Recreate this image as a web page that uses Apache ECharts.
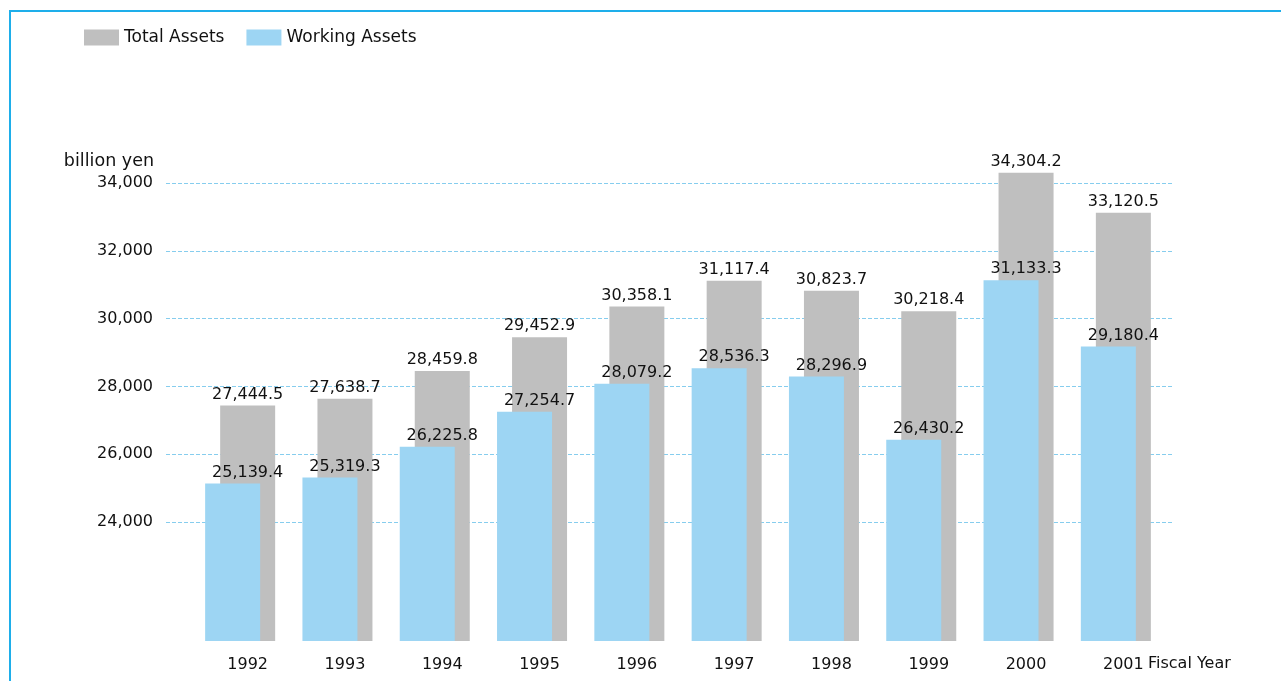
<!DOCTYPE html>
<html style="height: 100%">
<head>
<meta charset="utf-8">
</head>
<body style="height: 100%; margin: 0; background: #fff">
<div id="container" style="width: 1281px; height: 681px"></div>
<script src="https://cdn.jsdelivr.net/npm/echarts@6/dist/echarts.min.js"></script>
<script>
var years = ['1992', '1993', '1994', '1995', '1996', '1997', '1998', '1999', '2000', '2001'];
var totalAssets = [27444.5, 27638.7, 28459.8, 29452.9, 30358.1, 31117.4, 30823.7, 30218.4, 34304.2, 33120.5];
var workingAssets = [25139.4, 25319.3, 26225.8, 27254.7, 28079.2, 28536.3, 28296.9, 26430.2, 31133.3, 29180.4];

var font = 'DejaVu Sans';
var fmt = function (v) {
    return v.toLocaleString('en-US', {minimumFractionDigits: 1, maximumFractionDigits: 1});
};

var chart = echarts.init(document.getElementById('container'));

var option = {
    animation: false,
    textStyle: {fontFamily: font},
    legend: {
        left: 79,
        top: 24,
        itemWidth: 35,
        itemHeight: 16,
        itemGap: 22,
        icon: 'rect',
        data: ['Total Assets', 'Working Assets'],
        textStyle: {fontSize: 17, color: '#111', fontFamily: font}
    },
    graphic: [
        {type: 'rect', shape: {x: 10, y: 10, width: 1271, height: 2}, style: {fill: '#1eaeea'}},
        {type: 'rect', shape: {x: 9, y: 10, width: 2, height: 671}, style: {fill: '#1eaeea'}},
        {type: 'text', right: 1281 - 154, top: 152,
            style: {text: 'billion yen', fontSize: 17.5, fill: '#111', fontFamily: font}},
        {type: 'text', left: 1148, top: 656,
            style: {text: 'Fiscal Year', fontSize: 16, fill: '#111', fontFamily: font}}
    ],
    grid: [
        // bars (shifted left so the grey bar sits on the category centre)
        {left: 191.5, right: 116.5, top: 166, height: 475},
        // gridlines and y labels
        {left: 166, right: 109, top: 183, height: 339}
    ],
    xAxis: [
        {
            type: 'category', gridIndex: 0, data: years,
            axisLine: {show: false}, axisTick: {show: false},
            axisLabel: {
                fontSize: 16, color: '#111', margin: 16, fontFamily: font,
                padding: [0, 0, 0, 15]
            }
        },
        {type: 'value', gridIndex: 1, show: false}
    ],
    yAxis: [
        {
            type: 'value', gridIndex: 0, min: 20500, max: 34500,
            show: false, splitLine: {show: false}
        },
        {
            type: 'value', gridIndex: 1, min: 24000, max: 34000, interval: 2000,
            axisLine: {show: false}, axisTick: {show: false},
            axisLabel: {
                fontSize: 16, color: '#111', margin: 13, fontFamily: font,
                formatter: function (v) { return v.toLocaleString('en-US'); }
            },
            splitLine: {show: true, lineStyle: {color: '#86cdee', type: [4, 2], width: 1}}
        }
    ],
    series: [
        {
            name: 'Working Assets',
            type: 'bar',
            xAxisIndex: 0, yAxisIndex: 0,
            data: workingAssets,
            barWidth: 55,
            barGap: '-72.7%',
            z: 3,
            itemStyle: {color: '#9dd5f3'},
            label: {
                show: true, position: 'top', distance: 3, offset: [15, 0],
                fontSize: 16, color: '#111', fontFamily: font,
                formatter: function (p) { return fmt(p.value); }
            }
        },
        {
            name: 'Total Assets',
            type: 'bar',
            xAxisIndex: 0, yAxisIndex: 0,
            data: totalAssets,
            barWidth: 55,
            z: 2,
            itemStyle: {color: '#bfbfbf'},
            label: {
                show: true, position: 'top', distance: 3,
                fontSize: 16, color: '#111', fontFamily: font,
                formatter: function (p) { return fmt(p.value); }
            }
        }
    ]
};
chart.setOption(option);
</script>
</body>
</html>
